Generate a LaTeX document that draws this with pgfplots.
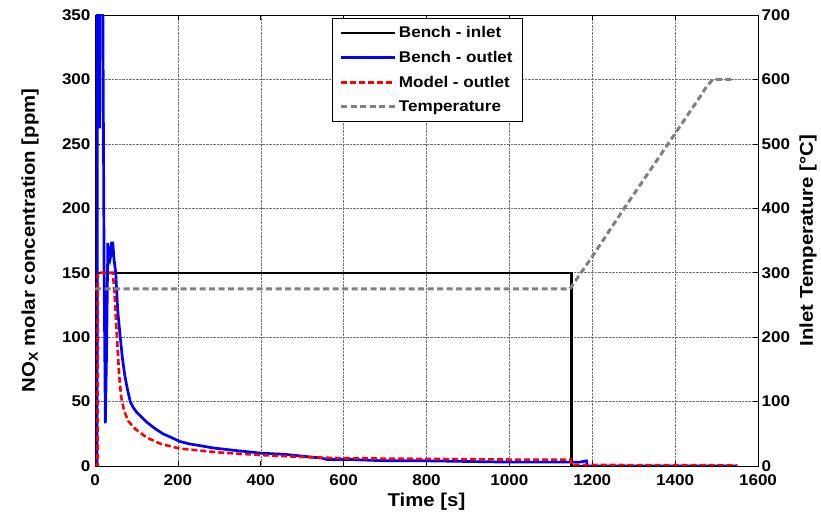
\documentclass[border=0pt]{standalone}
\usepackage{fontspec}
\setmainfont[FakeStretch=1.1]{Liberation Sans}
\usepackage{pgfplots}
\pgfplotsset{compat=1.18}
\definecolor{tgray}{RGB}{128,128,128}
\begin{document}
\begin{tikzpicture}
\pgfplotsset{
  every axis/.append style={
    scale only axis, width=663pt, height=451pt,
    xmin=0, xmax=1600,
    /pgf/number format/assume math mode=true,
    /pgf/number format/1000 sep={},
    tick label style={font=\fontsize{15.5}{17}\selectfont\bfseries},
    label style={font=\fontsize{18.5}{20}\selectfont\bfseries},
    tick align=inside, major tick length=5pt,
    axis line style={line width=0.8pt},
    tick style={line width=0.6pt, black},
  }
}
\begin{axis}[name=main,
  ymin=0, ymax=350,
  xtick={0,200,...,1600}, ytick={0,50,...,350},
  ytick pos=left, xtick pos=both,
  grid=major, major grid style={densely dotted, black!55, line width=0.5pt},
  xlabel={Time [s]}, ylabel={NO\textsubscript{X} molar concentration [ppm]},
  xlabel style={at={(axis description cs:0.5,0)}, anchor=base, yshift=-40pt},
  ylabel style={at={(axis description cs:-0.098,0.5)}, anchor=center},
  xticklabel style={yshift=-5pt}, yticklabel style={xshift=-1pt},
  legend style={at={(0.357,0.993)}, anchor=north west, draw=black, line width=0.6pt,
    font=\fontsize{15.5}{17}\selectfont\bfseries, row sep=8pt, inner xsep=8pt, inner ysep=6pt,
    nodes={inner sep=2pt}},
  legend cell align=left,
  legend image code/.code={\draw[#1] (0pt,0pt) -- (54pt,0pt);},
]
\addplot[black, line width=2.2pt] coordinates {
(0,0) (5,0) (5,150) (1150,150) (1150,0) (1550,0)};
\addlegendentry{Bench - inlet}
\addplot[blue, line width=2.7pt] coordinates {
(0,0) (5,0) (6,420) (11,420) (11.3,262) (11.6,420) (18,420) (22,150) (25,33) (28,90)
(31,173) (34,163) (36,160) (38,163) (40,173) (43,173) (46,160) (50,150) (55,120) (61,100) (66,84) (72,70)
(78,60) (85,50) (93,45) (100,42) (112,38) (125,34) (145,29) (164,25) (185,22)
(205,19) (230,17) (250,16) (285,14) (340,12) (400,10) (460,9) (520,7) (550,6)
(560,5) (620,5) (700,4) (800,4) (900,3.5) (1000,3) (1100,3) (1150,3) (1170,3)
(1186,4) (1188,0) (1550,0)};
\addlegendentry{Bench - outlet}
\addplot[red, line width=2.6pt, dash pattern=on 6pt off 3pt] coordinates {
(0,0) (6,0) (7,150) (43,150) (47,135) (53,100) (58,72) (63,54) (70,43) (80,35)
(96,29) (125,22) (160,17) (205,13.5) (300,10.5) (400,8.5) (500,7) (600,6)
(800,5.5) (1000,5) (1148,5) (1150,1) (1200,0.8) (1550,0.5)};
\addlegendentry{Model - outlet}
\addlegendimage{tgray, line width=3pt, dash pattern=on 6pt off 3.5pt}
\addlegendentry{Temperature}
\end{axis}
\begin{axis}[
  ymin=0, ymax=700, ytick={0,100,...,700},
  axis y line*=right, axis x line=none,
  ylabel={Inlet Temperature [°C]},
  ylabel style={at={(axis description cs:1.0754,0.5)}, anchor=center},
  yticklabel style={xshift=0pt},
]
\addplot[tgray, line width=3pt, dash pattern=on 6pt off 3.5pt] coordinates {
(0,275) (1146,275) (1160,288) (1200,325) (1274,397) (1400,516) (1460,573)
(1475,588) (1491,600) (1545,600)};
\end{axis}
\pgfresetboundingbox
\path[use as bounding box] ([shift={(-95pt,-50pt)}]main.south west) rectangle ([shift={(63pt,15pt)}]main.north east);
\end{tikzpicture}
\end{document}
